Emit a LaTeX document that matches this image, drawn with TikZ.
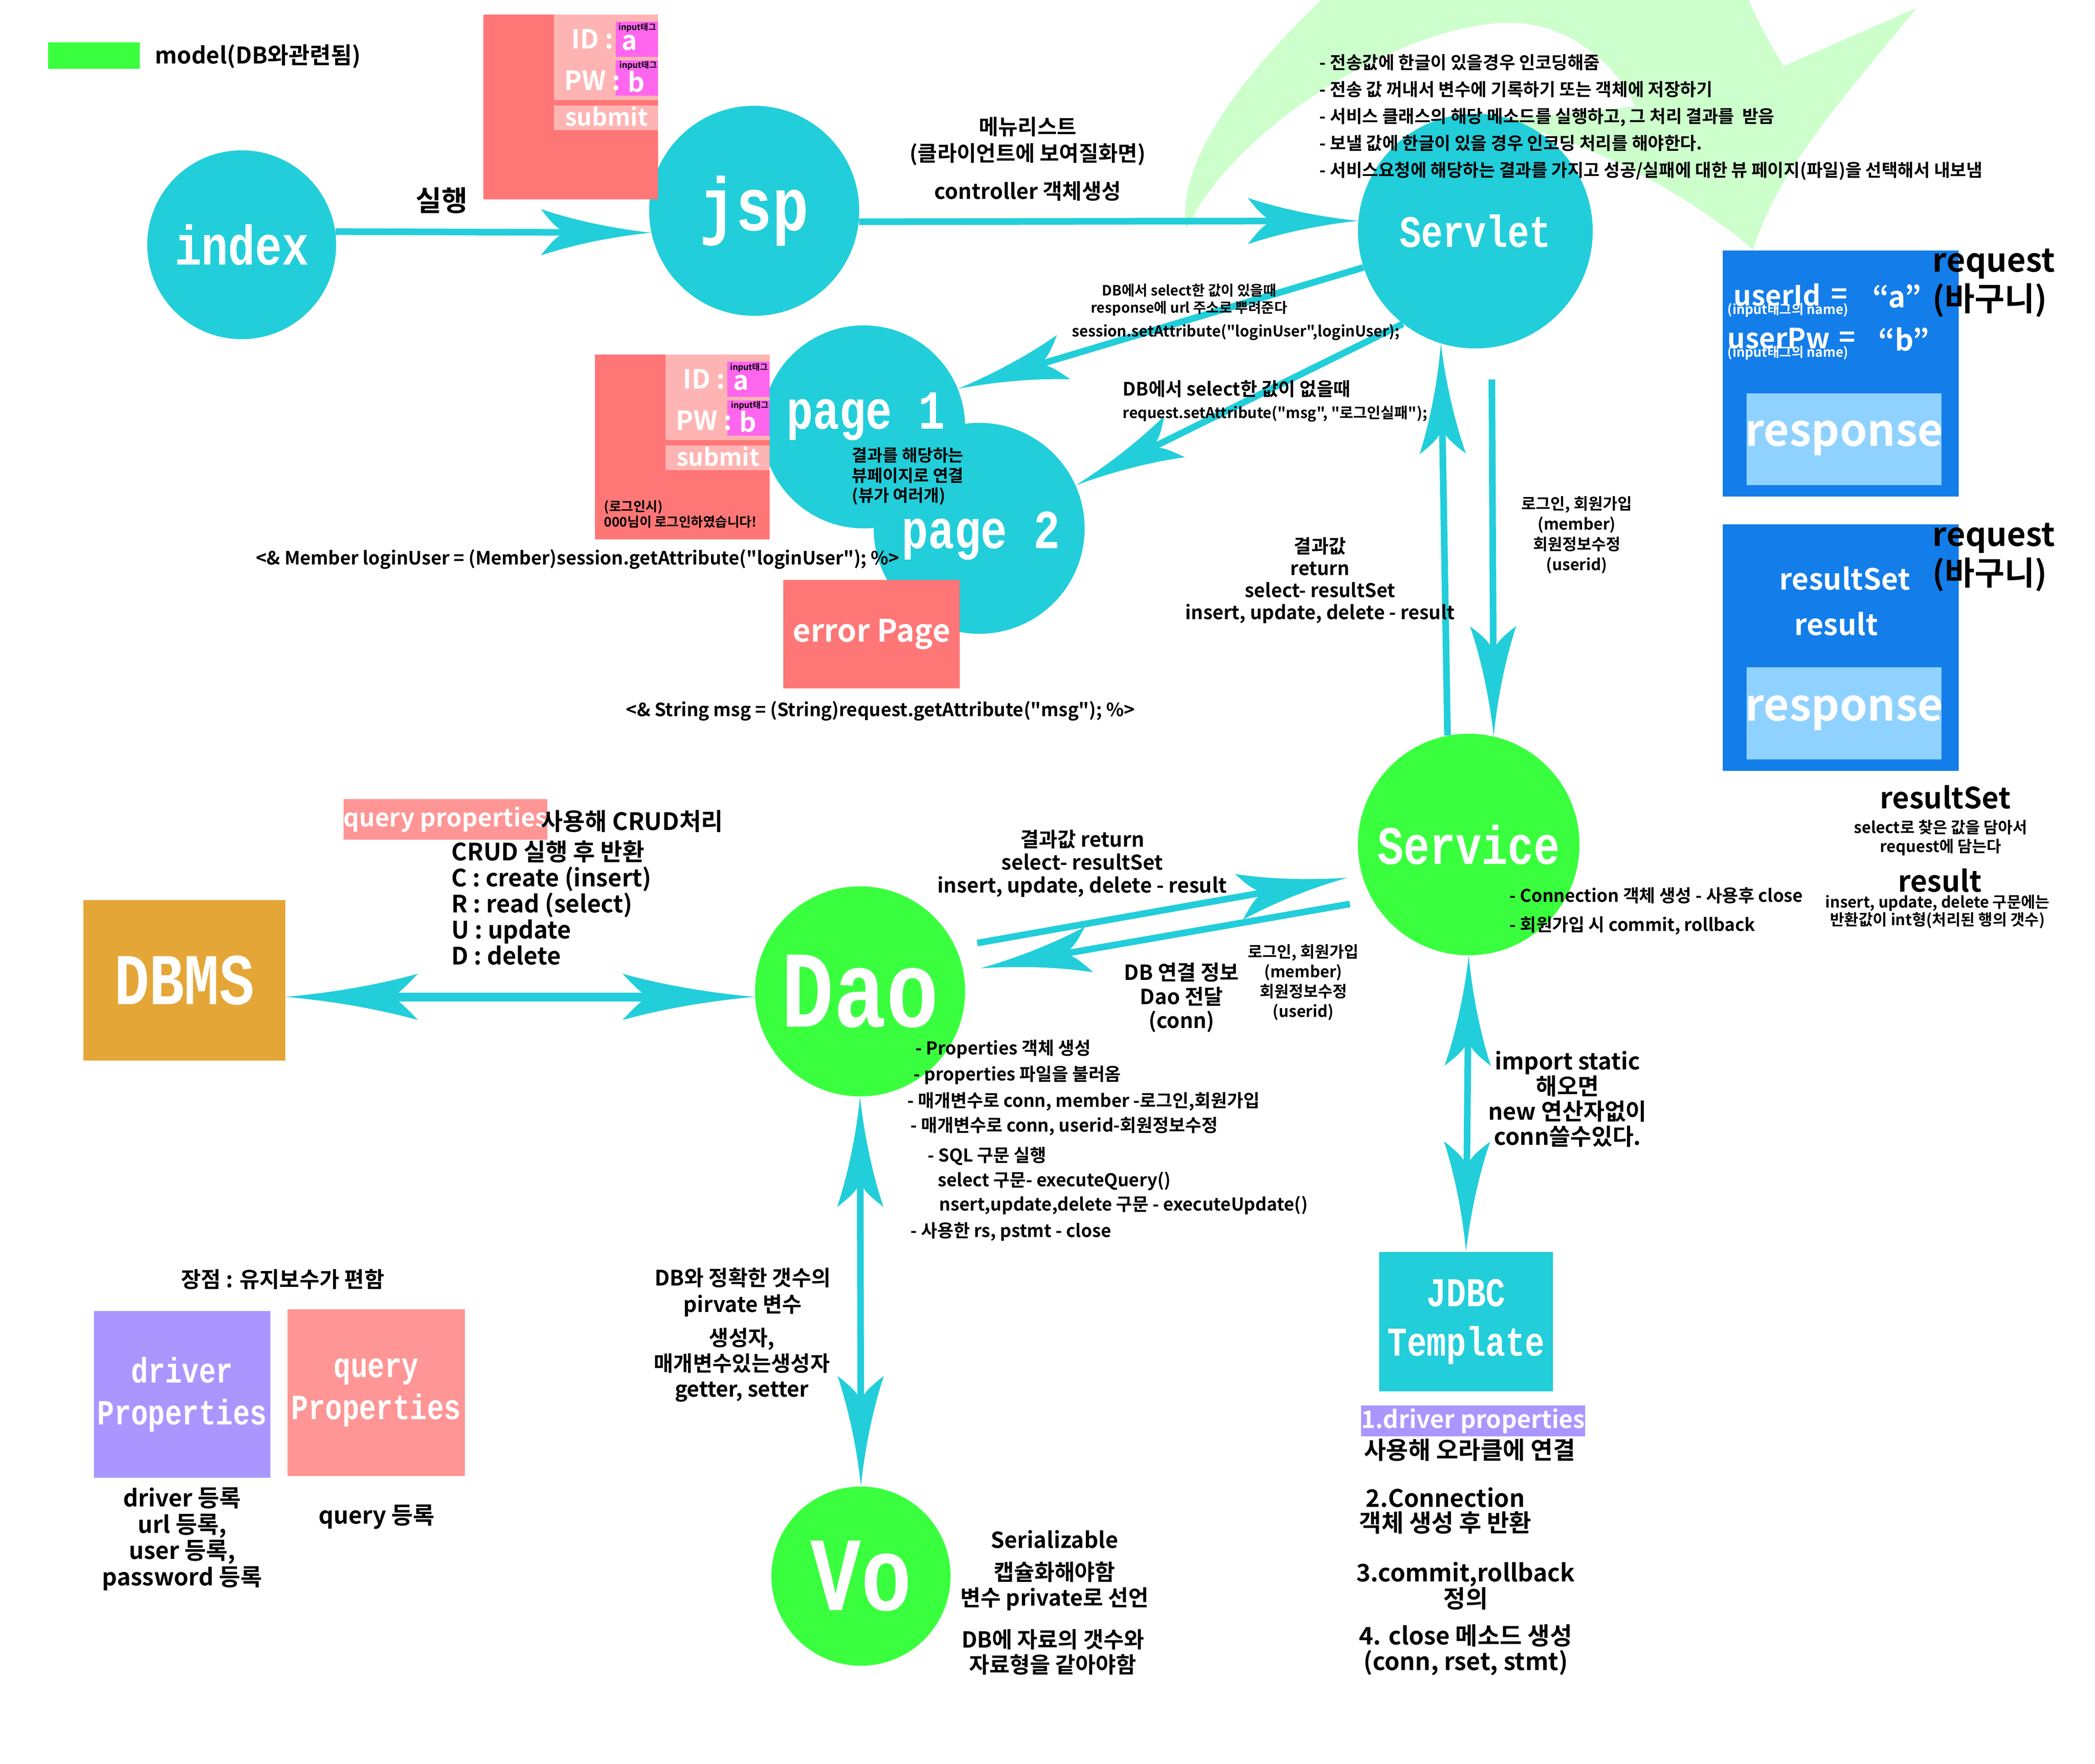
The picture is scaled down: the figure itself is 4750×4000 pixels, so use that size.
\documentclass[tikz,border=0pt]{standalone}
\usepackage{fontspec}
\setmainfont{Noto Sans CJK KR Bold}[Ligatures=TeXOff]
\newfontfamily\typefont{Liberation Mono}[UprightFont=* Bold, FakeStretch=0.8]
\usetikzlibrary{arrows.meta}

\newcommand\txtsize[2]{\fontsize{#1pt}{#2pt}\selectfont}

% swept arrow tip with curved sides
\pgfdeclarearrow{
  name = Swoop,
  parameters = {\the\pgfarrowlength,\the\pgfarrowwidth,\the\pgfarrowinset},
  setup code = {
    \pgfarrowssettipend{0pt}
    \pgfarrowssetbackend{-\pgfarrowlength}
    \pgfarrowssetlineend{-.5\pgfarrowlength}
    \pgfarrowshullpoint{0pt}{0pt}
    \pgfarrowsupperhullpoint{-\pgfarrowlength}{.5\pgfarrowwidth}
    \pgfarrowssavethe\pgfarrowlength
    \pgfarrowssavethe\pgfarrowwidth
    \pgfarrowssavethe\pgfarrowinset
  },
  drawing code = {
    \pgfpathmoveto{\pgfqpoint{0pt}{0pt}}
    \pgfpathcurveto{\pgfpoint{-.4\pgfarrowlength}{.1\pgfarrowwidth}}{\pgfpoint{-.75\pgfarrowlength}{.3\pgfarrowwidth}}{\pgfpoint{-\pgfarrowlength}{.5\pgfarrowwidth}}
    \pgfpathcurveto{\pgfpoint{-.9\pgfarrowlength}{.2\pgfarrowwidth}}{\pgfpoint{-.85\pgfarrowlength}{.06\pgfarrowwidth}}{\pgfpoint{\pgfarrowinset-\pgfarrowlength}{0pt}}
    \pgfpathcurveto{\pgfpoint{-.85\pgfarrowlength}{-.06\pgfarrowwidth}}{\pgfpoint{-.9\pgfarrowlength}{-.2\pgfarrowwidth}}{\pgfpoint{-\pgfarrowlength}{-.5\pgfarrowwidth}}
    \pgfpathcurveto{\pgfpoint{-.75\pgfarrowlength}{-.3\pgfarrowwidth}}{\pgfpoint{-.4\pgfarrowlength}{-.1\pgfarrowwidth}}{\pgfqpoint{0pt}{0pt}}
    \pgfpathclose
    \pgfusepathqfill
  },
  defaults = {length=25mm, width=10mm, inset=6mm}
}

\definecolor{jspcyan}{HTML}{22CED9}
\definecolor{modelgreen}{HTML}{3AFF3F}
\definecolor{swoosh}{HTML}{CCFFCC}
\definecolor{formred}{HTML}{FF7676}
\definecolor{formpink}{HTML}{FFB4B4}
\definecolor{inputpink}{HTML}{FF66EE}
\definecolor{querypink}{HTML}{FF9595}
\definecolor{driverpurple}{HTML}{AA96FF}
\definecolor{dbmsorange}{HTML}{E5A638}
\definecolor{reqblue}{HTML}{137DE9}
\definecolor{resblue}{HTML}{90D2FF}

\tikzset{
  bubble/.style={circle, fill=#1, inner sep=0pt, text=white},
  block/.style={rectangle, fill=#1, inner sep=0pt, text=white, align=center},
  lbl/.style={inner sep=0pt, align=center},
  flow/.style={draw=jspcyan, line width=1.5mm},
  pics/loginform/.style={code={
    \fill[formred] (0,0) rectangle (396,419);
    \fill[formpink] (160,0) rectangle (396,194);
    \fill[inputpink] (300,16) rectangle (396,96);
    \fill[inputpink] (300,104) rectangle (396,184);
    \fill[formpink] (160,206) rectangle (396,262);
    \node[lbl, anchor=east, text=white, font=\txtsize{17}{17}] (-id) at (296,56) {ID :};
    \node[lbl, anchor=east, text=white, font=\txtsize{17}{17}] (-pw) at (312,150) {PW :};
    \node[lbl, text=white, font=\txtsize{17}{17}] (-a) at (331,64) {a};
    \node[lbl, text=white, font=\txtsize{17}{17}] (-b) at (347,152) {b};
    \node[lbl, font=\txtsize{5.4}{5.4}] (-tag1) at (349,30) {input태그};
    \node[lbl, font=\txtsize{5.4}{5.4}] (-tag2) at (351,116) {input태그};
    \node[lbl, text=white, font=\txtsize{15.4}{15}] (-submit) at (279,231) {submit};
  }}
}

\begin{document}
\begin{tikzpicture}[x=0.01cm, y=-0.01cm, >={Swoop[length=25mm, width=10.5mm, inset=6mm]}]
\useasboundingbox (0,0) rectangle (4750,4000);
\fill[white] (0,0) rectangle (4750,4000);

% big loop arrow behind the servlet
\begin{scope}
\clip (0,0) rectangle (4750,4000);
\fill[swoosh] (2690,520) .. controls (2660,350) and (2860,120) .. (3060,-60)
  .. controls (3350,-300) and (3880,-280) .. (3965,0)
  .. controls (3990,60) and (4020,110) .. (4044,150)
  -- (4345,18)
  .. controls (4200,200) and (4030,380) .. (3975,567)
  .. controls (3880,480) and (3600,300) .. (3373,275)
  -- (3707,241)
  .. controls (3670,150) and (3560,55) .. (3432,52)
  .. controls (3200,45) and (2800,280) .. (2690,520) -- cycle;
\end{scope}

% legend
\fill[modelgreen] (109,96) rectangle (317,156);
\node[lbl, anchor=west, font=\txtsize{14.8}{15}] (legend) at (351,128) {model(DB와관련됨)};

% nodes
\node[bubble=jspcyan, minimum size=42.8mm, font=\typefont\txtsize{36}{36}] (index) at (548,555) {index};
\node[bubble=jspcyan, minimum size=47.6mm, font=\typefont\txtsize{48.6}{48}] (jsp) at (1710,478) {jsp};
\node[bubble=jspcyan, minimum size=53.2mm, font=\typefont\txtsize{29}{29}] (servlet) at (3345,524) {Servlet};
\node[bubble=jspcyan, minimum size=46mm] (page1) at (1958,968) {};
\node[bubble=jspcyan, minimum size=47.8mm] (page2) at (2220,1198) {};
\node[lbl, text=white, font=\typefont\txtsize{35.5}{35}] (page1text) at (1963,945) {page 1};
\node[lbl, text=white, font=\typefont\txtsize{35.5}{35}] (page2text) at (2224,1215) {page 2};
\node[block=formred, minimum width=39.9mm, minimum height=24.6mm, font=\txtsize{19.9}{20}] (errorpage) at (1976,1438) {error Page};
\node[bubble=modelgreen, minimum size=50.2mm, font=\typefont\txtsize{35}{35}] (service) at (3330,1915) {Service};
\node[bubble=modelgreen, minimum size=47.6mm, font=\typefont\txtsize{70.5}{70}] (dao) at (1950,2248) {Dao};
\node[bubble=modelgreen, minimum size=40.6mm, font=\typefont\txtsize{68}{68}] (vo) at (1952,3574) {Vo};
\node[block=dbmsorange, minimum width=45.7mm, minimum height=36.3mm, font=\typefont\txtsize{47}{47}] (dbms) at (418,2223) {DBMS};
\node[block=driverpurple, minimum width=40mm, minimum height=37.8mm, font=\typefont\txtsize{22.8}{27}] (driverprop) at (413,3162) {driver\\Properties};
\node[block=querypink, minimum width=40.1mm, minimum height=37.8mm, font=\typefont\txtsize{22.8}{27}] (queryprop) at (853,3158) {query\\Properties};
\node[block=jspcyan, minimum width=39.4mm, minimum height=31.6mm, font=\typefont\txtsize{26.4}{32}] (jdbc) at (3324,2997) {JDBC\\Template};

% login forms
\pic (formtop) at (1096,33) {loginform};
\pic (formpage) at (1349,804) {loginform};
\node[lbl, align=left, anchor=west, font=\txtsize{8.5}{8.6}] (loginmsg) at (1369,1166) {(로그인시)\\000님이 로그인하였습니다!};

% request boxes
\fill[reqblue] (3906,568) rectangle (4441,1126);
\fill[resblue] (3960,892) rectangle (4402,1100);
\node[lbl, anchor=west, text=white, font=\txtsize{18}{18}] (userid) at (3930,669) {userId};
\node[lbl, text=white, font=\txtsize{18}{18}] (eq1) at (4170,672) {=};
\node[lbl, text=white, font=\txtsize{18.8}{19}] (val1) at (4301,672) {“a”};
\node[lbl, anchor=west, text=white, font=\txtsize{8.5}{8.5}] (idname) at (3916,703) {(input태그의 name)};
\node[lbl, anchor=west, text=white, font=\txtsize{18}{18}] (userpw) at (3916,767) {userPw};
\node[lbl, text=white, font=\txtsize{18}{18}] (eq2) at (4188,770) {=};
\node[lbl, text=white, font=\txtsize{18.8}{19}] (val2) at (4316,770) {“b”};
\node[lbl, anchor=west, text=white, font=\txtsize{8.5}{8.5}] (pwname) at (3916,800) {(input태그의 name)};
\node[lbl, text=white, font=\txtsize{28.5}{29}] (resp1) at (4181,994) {response};
\node[lbl, align=left, anchor=west, font=\txtsize{21}{25}] (req1) at (4381,642) {request\\(바구니)};

\fill[reqblue] (3906,1189) rectangle (4441,1748);
\fill[resblue] (3960,1513) rectangle (4402,1722);
\node[lbl, text=white, font=\txtsize{18.8}{19}] (rsbox) at (4183,1312) {resultSet};
\node[lbl, text=white, font=\txtsize{18.8}{19}] (rbox) at (4163,1415) {result};
\node[lbl, text=white, font=\txtsize{28.5}{29}] (resp2) at (4181,1617) {response};
\node[lbl, align=left, anchor=west, font=\txtsize{21}{25}] (req2) at (4381,1264) {request\\(바구니)};

% connectors
\draw[flow, ->] (index.8) -- (jsp.192);
\draw[flow, ->] (jsp.354) -- (servlet.175);
\draw[flow, ->] (servlet.198) -- (page1.22);
\draw[flow, ->] (servlet.232) -- (page2.24);
\draw[flow, ->] (service.101) -- (servlet.253);
\draw[flow, ->, shorten <=7.2mm] (servlet.278) -- (service.77);
\draw[flow, ->, shorten <=5mm, shorten >=3.3mm] (dao.25) -- (service.196);
\draw[flow, ->, shorten <=5.2mm, shorten >=3.9mm] (service.210) -- (dao.11);
\draw[flow, <->, line width=2mm, >={Swoop[length=30mm, width=10.5mm, inset=6mm]}] (dbms.east |- dao.183) -- (dao.183);
\draw[flow, <->] (dao.south) -- (vo.north);
\draw[flow, <->] (service.south) -- (jdbc.north);

% labels
\node[lbl, font=\txtsize{18.2}{18}] (run) at (1001,455) {실행};
\node[lbl, font=\txtsize{13.7}{17}] (menu) at (2330,320) {메뉴리스트\\(클라이언트에 보여질화면)};
\node[lbl, font=\txtsize{13.7}{15}] (ctrl) at (2330,433) {controller 객체생성};
\node[lbl, align=left, anchor=west, font=\txtsize{11.3}{17.3}] (servletnote) at (2991,266) {- 전송값에 한글이 있을경우 인코딩해줌\\- 전송 값 꺼내서 변수에 기록하기 또는 객체에 저장하기\\- 서비스 클래스의 해당 메소드를 실행하고, 그 처리 결과를 \ 받음\\- 보낼 값에 한글이 있을 경우 인코딩 처리를 해야한다.\\- 서비스요청에 해당하는 결과를 가지고 성공/실패에 대한 뷰 페이지(파일)을 선택해서 내보냄};
\node[lbl, font=\txtsize{9.1}{11}] (hasval) at (2696,680) {DB에서 select한 값이 있을때\\response에 url 주소로 뿌려준다};
\node[lbl, font=\txtsize{9.7}{10}] (setsession) at (2802,753) {session.setAttribute("loginUser",loginUser);};
\node[lbl, anchor=west, font=\txtsize{11.9}{12}] (noval) at (2545,882) {DB에서 select한 값이 없을때};
\node[lbl, anchor=west, font=\txtsize{9.6}{10}] (setmsg) at (2545,938) {request.setAttribute("msg", "로그인실패");};
\node[lbl, font=\txtsize{12.2}{14.2}] (servletret) at (2993,1316) {결과값\\return\\select- resultSet\\insert, update, delete - result};
\node[lbl, font=\txtsize{10.2}{13}] (servletreq) at (3575,1213) {로그인, 회원가입\\(member)\\회원정보수정\\(userid)};
\node[lbl, align=left, anchor=west, font=\txtsize{10.8}{13}] (viewnote) at (1931,1080) {결과를 해당하는\\뷰페이지로 연결\\(뷰가 여러개)};
\node[lbl, anchor=east, font=\txtsize{11.8}{12}] (memberget) at (2040,1268) {<\& Member loginUser = (Member)session.getAttribute("loginUser"); \%>};
\node[lbl, anchor=west, font=\txtsize{11.8}{12}] (msgget) at (1419,1612) {<\& String msg = (String)request.getAttribute("msg"); \%>};

\node[lbl, font=\txtsize{18.8}{19}] (rstitle) at (4411,1808) {resultSet};
\node[lbl, font=\txtsize{10.2}{12.2}] (rsdesc) at (4400,1900) {select로 찾은 값을 담아서\\request에 담는다};
\node[lbl, font=\txtsize{18.8}{19}] (rtitle) at (4398,1997) {result};
\node[lbl, font=\txtsize{10}{11.4}] (rdesc) at (4393,2067) {insert, update, delete 구문에는\\반환값이 int형(처리된 행의 갯수)};
\node[lbl, align=left, anchor=west, font=\txtsize{11.3}{19}] (servicenote) at (3422,2066) {- Connection 객체 생성 - 사용후 close\\- 회원가입 시 commit, rollback};
\node[lbl, font=\txtsize{14.8}{16.2}] (importnote) at (3554,2492) {import static\\해오면\\new 연산자없이\\conn쓸수있다.};

\node[lbl, font=\txtsize{13.1}{14.8}] (daoret) at (2454,1958) {결과값 return\\select- resultSet\\insert, update, delete - result};
\node[lbl, font=\txtsize{13.4}{15.6}] (daoconn) at (2679,2262) {DB 연결 정보\\Dao 전달\\(conn)};
\node[lbl, font=\txtsize{10.2}{12.8}] (daoreq) at (2955,2228) {로그인, 회원가입\\(member)\\회원정보수정\\(userid)};
\node[lbl, anchor=west, font=\txtsize{11.4}{12}] (daonote1) at (2075,2379) {- Properties 객체 생성};
\node[lbl, anchor=west, font=\txtsize{11.4}{12}] (daonote2) at (2071,2438) {- properties 파일을 불러옴};
\node[lbl, anchor=west, font=\txtsize{11.4}{12}] (daonote3) at (2057,2498) {- 매개변수로 conn, member -로그인,회원가입};
\node[lbl, anchor=west, font=\txtsize{11.4}{12}] (daonote4) at (2064,2554) {- 매개변수로 conn, userid-회원정보수정};
\node[lbl, anchor=west, font=\txtsize{11.4}{12}] (daonote5) at (2103,2622) {- SQL 구문 실행};
\node[lbl, anchor=west, font=\txtsize{11.4}{12}] (daonote6) at (2126,2678) {select 구문- executeQuery()};
\node[lbl, anchor=west, font=\txtsize{11.4}{12}] (daonote7) at (2129,2733) {nsert,update,delete 구문 - executeUpdate()};
\node[lbl, anchor=west, font=\txtsize{11.4}{12}] (daonote8) at (2064,2793) {- 사용한 rs, pstmt - close};

\node[block=querypink, minimum width=43.2mm, minimum height=9.1mm, font=\txtsize{15.9}{16}] (qpropnote) at (1010,1858) {query properties};
\node[lbl, anchor=west, font=\txtsize{15.4}{16}] (crudnote) at (1226,1862) {사용해 CRUD처리};
\node[lbl, align=left, anchor=west, font=\txtsize{15.4}{16.8}] (crudlist) at (1023,2047) {CRUD 실행 후 반환\\C : create (insert)\\R : read (select)\\U : update\\D : delete};

\node[lbl, font=\txtsize{14}{14}] (merit) at (641,2901) {장점 : 유지보수가 편함};
\node[lbl, font=\txtsize{15.1}{17}] (driverreg) at (413,3490) {driver 등록\\url 등록,\\user 등록,\\password 등록};
\node[lbl, font=\txtsize{15.1}{17}] (queryreg) at (854,3440) {query 등록};

\node[block=driverpurple, minimum width=48.5mm, minimum height=7mm, font=\txtsize{15.6}{16}] (jdbcstep1) at (3340,3222) {1.driver properties};
\node[lbl, font=\txtsize{15.6}{16}] (jdbcstep1b) at (3332,3288) {사용해 오라클에 연결};
\node[lbl, font=\txtsize{15.6}{16}] (jdbcstep2) at (3277,3426) {2.Connection\\객체 생성 후 반환};
\node[lbl, font=\txtsize{15.6}{16.8}] (jdbcstep3) at (3323,3596) {3.commit,rollback\\정의};
\node[lbl, font=\txtsize{15.6}{16.5}] (jdbcstep4) at (3323,3741) {4. close 메소드 생성\\(conn, rset, stmt)};

\node[lbl, font=\txtsize{14.2}{14}] (voserial) at (2391,3491) {Serializable};
\node[lbl, font=\txtsize{14.2}{16.5}] (voencap) at (2391,3597) {캡슐화해야함\\변수 private로 선언};
\node[lbl, font=\txtsize{14.2}{16.2}] (vomatch) at (2387,3746) {DB에 자료의 갯수와\\자료형을 같아야함};
\node[lbl, font=\txtsize{13.7}{17}] (vofields) at (1684,2930) {DB와 정확한 갯수의\\pirvate 변수};
\node[lbl, font=\txtsize{13.7}{16.5}] (voctor) at (1682,3095) {생성자,\\매개변수있는생성자\\getter, setter};
\end{tikzpicture}
\end{document}
